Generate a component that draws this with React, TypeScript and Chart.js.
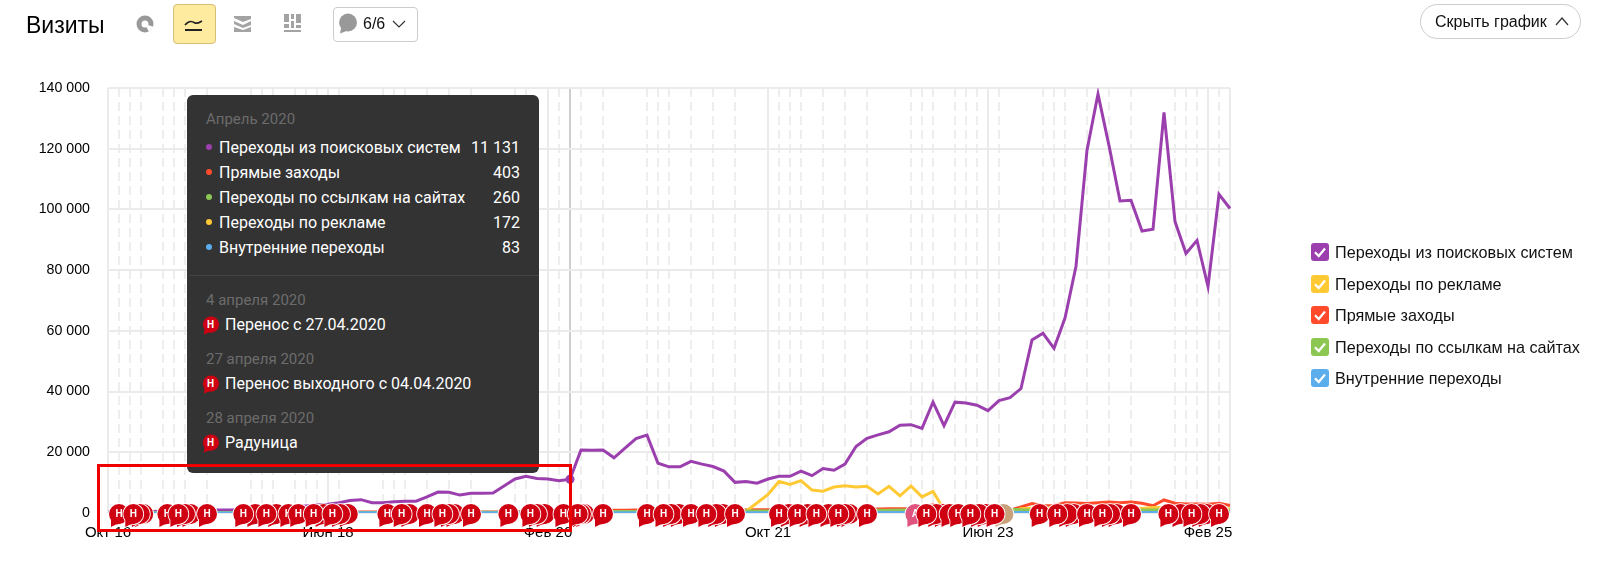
import React, { useEffect, useRef } from "react";
import { Chart, registerables } from "chart.js";

Chart.register(...registerables);

const monthNames = ["Янв", "Фев", "Мар", "Апр", "Май", "Июн", "Июл", "Авг", "Сен", "Окт", "Ноя", "Дек"];
const categories: string[] = [];
for (let i = 0; i < 103; i++) {
  const m = (9 + i) % 12;
  const y = 16 + Math.floor((9 + i) / 12);
  categories.push(`${monthNames[m]} ${y}`);
}

const searchVisits = [
  300, 350, 420, 480, 520, 600, 640, 700, 760, 850, 950, 1000, 1100, 1200, 1350, 1550, 1800, 2050, 2300, 2600, 2900,
  3400, 4100, 4400, 3400, 3400, 3700, 3900, 3900, 5300, 6900, 6800, 5900, 6500, 6500, 6600, 8900, 11200, 12100, 11400,
  11200, 10600, 11131, 20760, 20650, 20760, 18200, 21400, 24500, 25640, 16400, 15200, 15200, 17000, 16100, 15300,
  13800, 10100, 10400, 9800, 11200, 12100, 12100, 13800, 12300, 14650, 14100, 16100, 21900, 24600, 25750, 26750, 28900,
  29100, 27900, 36500, 28750, 36500, 36200, 35500, 33700, 37000, 38000, 41000, 57000, 59200, 54250, 64200, 81300,
  119500, 138000, 121000, 102800, 103000, 92900, 93500, 132000, 96000, 85500, 89800, 74600, 105000, 100300,
];
const adVisits = [
  50, 50, 60, 60, 70, 60, 70, 70, 80, 80, 90, 90, 100, 100, 110, 110, 120, 120, 130, 130, 130, 140, 140, 150, 150, 150,
  160, 160, 160, 160, 170, 170, 170, 170, 170, 170, 170, 170, 170, 170, 170, 170, 172, 180, 190, 190, 200, 200, 210,
  220, 230, 240, 250, 260, 280, 300, 320, 350, 600, 3300, 6100, 10400, 9400, 10650, 7550, 7200, 8550, 9000, 8550, 8800,
  6300, 8800, 5650, 8900, 5300, 7100, 1100, 900, 700, 600, 500, 500, 500, 1400, 1600, 1500, 1700, 1800, 1900, 1700,
  1800, 1900, 1800, 1700, 1500, 1800, 1700, 1600, 1500, 1400, 1300, 1400, 1300,
];
const directVisits = [
  120, 130, 130, 140, 140, 150, 150, 160, 160, 170, 170, 180, 190, 190, 200, 210, 220, 230, 240, 250, 260, 270, 280,
  290, 290, 300, 300, 310, 320, 330, 340, 340, 350, 350, 360, 370, 380, 390, 390, 400, 400, 400, 403, 700, 800, 850,
  900, 900, 950, 1000, 1000, 950, 1000, 1050, 1050, 1000, 1000, 950, 1000, 1050, 1100, 1100, 1150, 1200, 1200, 1200,
  1250, 1300, 1300, 1350, 1300, 1400, 1400, 1500, 1800, 2700, 1500, 1300, 1200, 1100, 1000, 900, 900, 2000, 3100, 2400,
  2500, 3400, 3300, 3100, 3400, 3600, 3400, 3600, 3200, 2400, 4300, 3200, 3000, 3000, 2900, 3200, 2500,
];
const referralVisits = [
  80, 80, 90, 90, 100, 100, 110, 110, 120, 120, 130, 130, 140, 140, 150, 150, 160, 160, 170, 170, 180, 190, 190, 200,
  200, 210, 210, 220, 220, 230, 230, 240, 240, 250, 250, 250, 260, 260, 260, 260, 260, 260, 260, 400, 450, 450, 500,
  500, 500, 550, 550, 550, 600, 600, 600, 650, 650, 650, 700, 700, 700, 750, 750, 800, 800, 800, 850, 850, 850, 900,
  900, 900, 950, 950, 1000, 1100, 1000, 1000, 1100, 1200, 1300, 1400, 1200, 1100, 1000, 1000, 1100, 1100, 1000, 1000,
  1100, 1000, 1000, 1100, 1000, 1000, 1100, 1000, 1000, 1000, 1000, 1000, 900,
];
const internalVisits = [
  20, 20, 20, 25, 25, 30, 30, 30, 35, 35, 40, 40, 40, 45, 45, 50, 50, 50, 55, 55, 60, 60, 60, 65, 65, 65, 70, 70, 70,
  70, 75, 75, 75, 75, 80, 80, 80, 80, 80, 80, 80, 80, 83, 90, 90, 95, 95, 100, 100, 100, 105, 105, 105, 110, 110, 110,
  115, 115, 115, 120, 120, 120, 125, 125, 125, 130, 130, 130, 135, 135, 135, 140, 140, 145, 145, 150, 150, 150, 155,
  155, 160, 160, 160, 165, 165, 170, 170, 175, 175, 180, 180, 185, 185, 190, 190, 190, 195, 195, 200, 200, 200, 200, 200,
];

const holidayMonths = [
  1, 2, 3, 5, 6, 7, 9, 13, 14, 15, 17, 18, 19, 20, 21, 25, 26, 27, 29, 31, 33, 37, 38, 40, 41, 43, 45, 49, 50, 51, 53, 55,
  57, 61, 62, 63, 65, 67, 69, 73, 74, 75, 77, 78, 79, 81, 85, 86, 87, 89, 91, 93, 97, 98, 99, 101,
];
const solidMonths = [0, 20, 40, 60, 80, 100, 102];
const hoveredMonth = 42;

const backHolidayBadges = [
  3.2, 2.9, 7.5, 7, 13.4, 15.3, 21.8, 21.1, 19.6, 27.4, 31.5, 31, 39.7, 39, 43.3, 43, 51.9, 51.2, 55.9, 55.3, 61.9, 63.6,
  65.5, 67.4, 67, 75.9, 75.3, 76.5, 79.8, 79.2, 87.8, 87.2, 91.7, 91.1, 97.5, 99.9, 99.3,
];
const frontHolidayBadges = [
  1, 2.3, 5.4, 6.4, 9, 12.3, 14.4, 16.4, 17.3, 18.7, 20.4, 25.4, 26.7, 29, 30.4, 33, 36.4, 38.4, 41.4, 42.7, 45, 49, 50.5,
  53, 54.4, 57, 61, 62.7, 64.4, 66.4, 69, 77.3, 78.4, 84.7, 86.3, 89, 90.4, 93, 96.4, 98.5, 101,
];
const annotationBadge = 73.4;
const neutralBadge = 81.4;
const topFrontBadges = [74.4, 80.6];

const legendItems = [
  { label: "Переходы из поисковых систем", color: "#9b3fae" },
  { label: "Переходы по рекламе", color: "#ffc933" },
  { label: "Прямые заходы", color: "#ff4b2b" },
  { label: "Переходы по ссылкам на сайтах", color: "#8cc653" },
  { label: "Внутренние переходы", color: "#5cadec" },
];
const tooltipRows = [
  { label: "Переходы из поисковых систем", value: "11 131", color: "#9b3fae" },
  { label: "Прямые заходы", value: "403", color: "#ff4b2b" },
  { label: "Переходы по ссылкам на сайтах", value: "260", color: "#8cc653" },
  { label: "Переходы по рекламе", value: "172", color: "#ffc933" },
  { label: "Внутренние переходы", value: "83", color: "#5cadec" },
];
const tooltipNotes = [
  { date: "4 апреля 2020", text: "Перенос с 27.04.2020" },
  { date: "27 апреля 2020", text: "Перенос выходного с 04.04.2020" },
  { date: "28 апреля 2020", text: "Радуница" },
];
const axisFont = '"Liberation Sans", Arial, sans-serif';

function badgePath(ctx: CanvasRenderingContext2D, x: number, y: number, part: number) {
  ctx.beginPath();
  if (part === 0) {
    ctx.arc(x, y, 10, 0, Math.PI * 2);
  } else {
    ctx.moveTo(x - 8, y + 4);
    ctx.lineTo(x - 8, y + 13);
    ctx.quadraticCurveTo(x - 4, y + 10, x + 2, y + 9.5);
    ctx.closePath();
  }
}

function drawBadge(ctx: CanvasRenderingContext2D, x: number, y: number, fill: string, letter: string) {
  ctx.save();
  ctx.lineWidth = 1.6;
  ctx.strokeStyle = "#fff";
  badgePath(ctx, x, y, 1);
  ctx.stroke();
  badgePath(ctx, x, y, 0);
  ctx.stroke();
  ctx.fillStyle = fill;
  badgePath(ctx, x, y, 1);
  ctx.fill();
  badgePath(ctx, x, y, 0);
  ctx.fill();
  if (letter) {
    ctx.fillStyle = "#fff";
    ctx.font = `bold 10px ${axisFont}`;
    ctx.textAlign = "center";
    ctx.textBaseline = "middle";
    ctx.fillText(letter, x, y + 0.5);
  }
  ctx.restore();
}

const badgePlugin = {
  id: "holidayBadges",
  afterDatasetsDraw(chart: any) {
    const { ctx, scales } = chart;
    const y = scales.y.getPixelForValue(0) + 1;
    const px = (m: number) => scales.x.getPixelForValue(m);
    const red = "#cf0012";
    backHolidayBadges.forEach((m) => drawBadge(ctx, px(m), y, red, ""));
    frontHolidayBadges.forEach((m) => drawBadge(ctx, px(m), y, red, "Н"));
    drawBadge(ctx, px(neutralBadge), y, "#c9a27c", "");
    drawBadge(ctx, px(annotationBadge), y, "#df5580", "А");
    topFrontBadges.forEach((m) => drawBadge(ctx, px(m), y, red, "Н"));
    // the hovered point sits above the badges
    const hx = px(hoveredMonth);
    const hy = scales.y.getPixelForValue(searchVisits[hoveredMonth]);
    ctx.save();
    ctx.fillStyle = legendItems[0].color;
    ctx.beginPath();
    ctx.arc(hx, hy, 4.5, 0, Math.PI * 2);
    ctx.fill();
    ctx.restore();
  },
};

const Check = () => (
  <svg width="18" height="18" viewBox="0 0 18 18" style={{ position: "absolute", left: 0, top: 0 }}>
    <path d="M4 9.2 L7.7 13 L14 5.5" fill="none" stroke="#fff" strokeWidth="2.2" />
  </svg>
);

function Bubble({ x, y, size, color }: { x: number; y: number; size: number; color: string }) {
  return (
    <svg width={size} height={size} viewBox="0 0 20 20" style={{ position: "absolute", left: x, top: y }}>
      <circle cx="10.5" cy="9" r="8.5" fill={color} />
      <path d="M4 13 L3 19.5 L12 16 Z" fill={color} />
    </svg>
  );
}

export default function App() {
  const ref = useRef<HTMLCanvasElement | null>(null);
  useEffect(() => {
    if (!ref.current) return;
    const line = (label: string, data: number[], color: string, order: number) => ({
      label,
      data,
      borderColor: color,
      backgroundColor: color,
      borderWidth: 3,
      tension: 0,
      order,
      pointRadius: 0,
    });
    const chart = new Chart(ref.current, {
      type: "line",
      data: {
        labels: categories,
        datasets: [
          line(legendItems[0].label, searchVisits, legendItems[0].color, 5),
          line(legendItems[1].label, adVisits, legendItems[1].color, 3),
          line(legendItems[2].label, directVisits, legendItems[2].color, 4),
          line(legendItems[3].label, referralVisits, legendItems[3].color, 2),
          line(legendItems[4].label, internalVisits, legendItems[4].color, 1),
        ],
      },
      options: {
        animation: false,
        responsive: false,
        layout: { padding: { left: 0, right: 376, top: 88, bottom: 0 } },
        plugins: { legend: { display: false }, tooltip: { enabled: false } },
        scales: {
          x: {
            type: "category",
            offset: false,
            afterFit: (s: any) => {
              s.height = 71;
            },
            grid: {
              drawTicks: false,
              lineWidth: 2,
              color: (c: any) => {
                if (c.index === hoveredMonth) return "#cfcfcf";
                if (solidMonths.includes(c.index)) return "#ebebeb";
                return holidayMonths.includes(c.index) ? "#eeeeee" : "rgba(0,0,0,0)";
              },
            },
            border: {
              display: false,
              dash: (c: any) => (solidMonths.includes(c.index) || c.index === hoveredMonth ? [] : [9, 5]),
            },
            ticks: {
              autoSkip: false,
              maxRotation: 0,
              minRotation: 0,
              padding: 11,
              color: "#000",
              font: { family: axisFont, size: 15 },
              callback: (_v: any, i: number) => (i % 20 === 0 ? categories[i] : ""),
            },
          },
          y: {
            min: 0,
            max: 140000,
            afterFit: (s: any) => {
              s.width = 108;
            },
            grid: { drawTicks: false, lineWidth: 2, color: "#ebebeb" },
            border: { display: false },
            ticks: {
              stepSize: 20000,
              padding: 18,
              color: "#000",
              font: { family: axisFont, size: 14.2 },
              callback: (v: any) => String(v).replace(/\B(?=(\d{3})+$)/g, " "),
            },
          },
        },
      },
      plugins: [badgePlugin],
    } as any);
    return () => chart.destroy();
  }, []);

  const abs = (s: React.CSSProperties): React.CSSProperties => ({ position: "absolute", ...s });
  const tipFont = 'Roboto, "Liberation Sans", sans-serif';
  return (
    <div style={abs({ left: 0, top: 0, width: 1606, height: 584, overflow: "hidden", background: "#fff", fontFamily: axisFont, color: "#111" })}>
      <canvas ref={ref} width={1606} height={584} style={abs({ left: 0, top: 0, width: 1606, height: 584 })} />

      <div style={abs({ left: 26, top: 12, fontSize: 23, lineHeight: "26px", color: "#000" })}>Визиты</div>
      <svg width="20" height="20" viewBox="0 0 20 20" style={abs({ left: 135, top: 14 })}>
        <circle cx="10" cy="10" r="6" fill="none" stroke="#999" strokeWidth="5" />
        <path d="M10 10 L14 18 L19 13 Z" fill="#fff" />
      </svg>
      <div style={abs({ left: 173, top: 4, width: 41, height: 38, background: "#ffeba0", border: "1px solid #d6bd74", borderRadius: 4 })} />
      <svg width="20" height="14" viewBox="0 0 20 14" style={abs({ left: 184, top: 18 })}>
        <path d="M1 7 C5 2 8 3 11 5 C14 6 16 4 18 3" fill="none" stroke="#222" strokeWidth="1.8" />
        <path d="M1 12 H18" stroke="#222" strokeWidth="2" />
      </svg>
      <svg width="20" height="20" viewBox="0 0 20 20" style={abs({ left: 233, top: 14 })}>
        <path d="M1 2 H18 V5 L10 8 L1 4 Z M1 7 L10 11 L18 7 V11 L10 14 L1 10 Z M1 13 L10 16 L18 13 V18 H1 Z" fill="#a3a3a3" />
      </svg>
      <svg width="20" height="20" viewBox="0 0 20 20" style={abs({ left: 283, top: 13 })}>
        <path d="M1 1 H6 V9 H1 Z M8 1 H11 V6 H8 Z M13 1 H18 V10 H13 Z M1 11 H6 V15 H1 Z M8 8 H11 V15 H8 Z M13 12 H18 V15 H13 Z M1 17 H18 V19 H1 Z" fill="#a3a3a3" />
      </svg>
      <div style={abs({ left: 333, top: 7, width: 83, height: 33, border: "1px solid #ccc", borderRadius: 4 })} />
      <Bubble x={337} y={13} size={21} color="#999" />
      <div style={abs({ left: 363, top: 15, fontSize: 16, lineHeight: "18px" })}>6/6</div>
      <svg width="16" height="10" viewBox="0 0 16 10" style={abs({ left: 391, top: 19 })}>
        <path d="M2 2 L8 8 L14 2" fill="none" stroke="#333" strokeWidth="1.2" />
      </svg>

      <div style={abs({ left: 1420, top: 4, width: 159, height: 33, border: "1px solid #ccc", borderRadius: 18 })} />
      <div style={abs({ left: 1435, top: 12, fontSize: 16, lineHeight: "20px", whiteSpace: "nowrap" })}>Скрыть график</div>
      <svg width="14" height="10" viewBox="0 0 14 10" style={abs({ left: 1555, top: 16 })}>
        <path d="M1 9 L7 2 L13 9" fill="none" stroke="#333" strokeWidth="1.2" />
      </svg>

      {legendItems.map((it, i) => (
        <div key={it.label}>
          <div style={abs({ left: 1311, top: [243, 275, 306, 338, 369][i], width: 18, height: 18, background: it.color, borderRadius: 3 })}>
            <Check />
          </div>
          <div style={abs({ left: 1335, top: [242, 274, 305, 337, 368][i], fontSize: 16.2, lineHeight: "20px", whiteSpace: "nowrap" })}>{it.label}</div>
        </div>
      ))}

      <div style={abs({ left: 187, top: 95, width: 352, height: 378, background: "#333", borderRadius: 6, fontFamily: tipFont, fontSize: 15 })}>
        <div style={abs({ left: 19, top: 14, color: "#6c6c6c", lineHeight: "20px", whiteSpace: "nowrap" })}>Апрель 2020</div>
        {tooltipRows.map((r, i) => (
          <div key={r.label}>
            <div style={abs({ left: 19, top: 49 + i * 25, width: 6, height: 6, borderRadius: 3, background: r.color })} />
            <div style={abs({ left: 32, top: 43 + i * 25, color: "#fff", fontSize: 16, lineHeight: "20px", whiteSpace: "nowrap" })}>{r.label}</div>
            <div style={abs({ right: 19, top: 43 + i * 25, color: "#fff", fontSize: 16, lineHeight: "20px", whiteSpace: "nowrap" })}>{r.value}</div>
          </div>
        ))}
        <div style={abs({ left: 2, right: 0, top: 180, height: 1, background: "#444" })} />
        {tooltipNotes.map((n, i) => (
          <div key={n.date}>
            <div style={abs({ left: 19, top: 195 + i * 59, color: "#6c6c6c", lineHeight: "20px", whiteSpace: "nowrap" })}>{n.date}</div>
            <Bubble x={14} y={221 + i * 59} size={19} color="#cf0012" />
            <div style={abs({ left: 14, top: 221 + i * 59, width: 19, textAlign: "center", fontSize: 10, fontWeight: 700, color: "#fff", lineHeight: "17px" })}>Н</div>
            <div style={abs({ left: 38, top: 220 + i * 59, color: "#fff", fontSize: 16, lineHeight: "20px", whiteSpace: "nowrap" })}>{n.text}</div>
          </div>
        ))}
      </div>

      <div style={abs({ left: 97, top: 464, width: 469, height: 62, border: "3px solid #ee0000" })} />
    </div>
  );
}
